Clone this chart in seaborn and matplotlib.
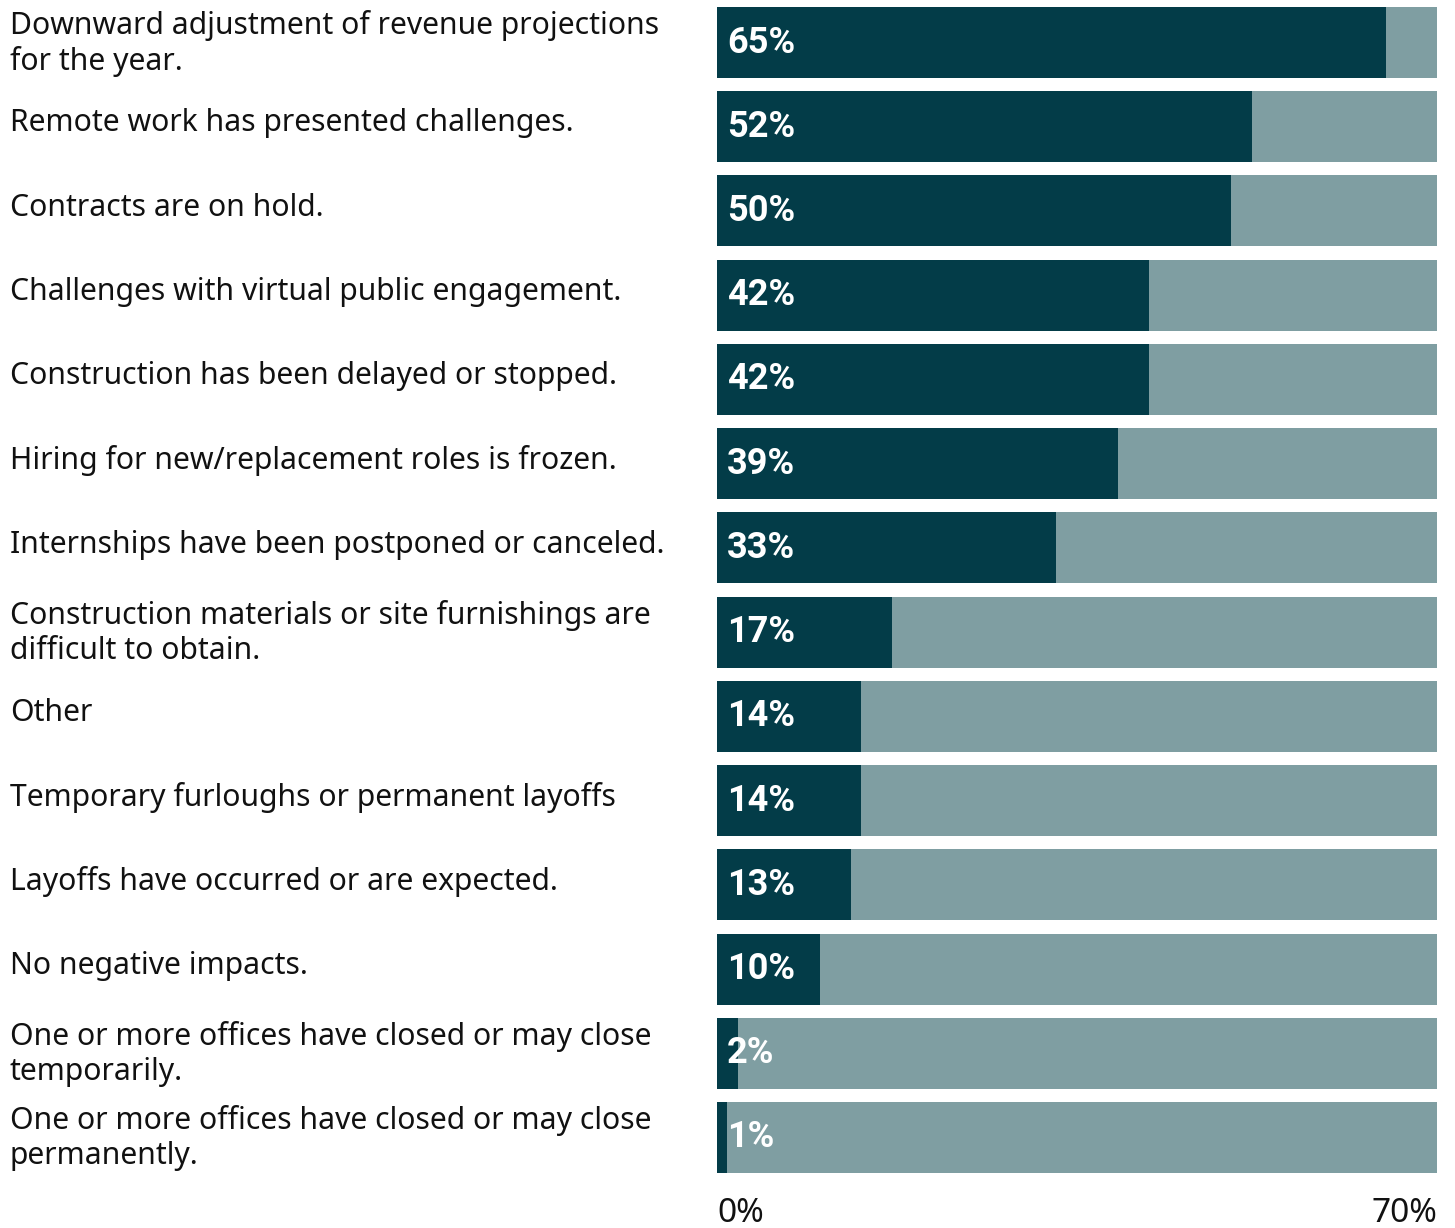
import matplotlib
matplotlib.use("Agg")
import matplotlib.pyplot as plt
import matplotlib.transforms as mtransforms
import seaborn as sns
import pandas as pd

categories = [
    "Downward adjustment of revenue projections\nfor the year.",
    "Remote work has presented challenges.",
    "Contracts are on hold.",
    "Challenges with virtual public engagement.",
    "Construction has been delayed or stopped.",
    "Hiring for new/replacement roles is frozen.",
    "Internships have been postponed or canceled.",
    "Construction materials or site furnishings are\ndifficult to obtain.",
    "Other",
    "Temporary furloughs or permanent layoffs",
    "Layoffs have occurred or are expected.",
    "No negative impacts.",
    "One or more offices have closed or may close\ntemporarily.",
    "One or more offices have closed or may close\npermanently.",
]
values = [65, 52, 50, 42, 42, 39, 33, 17, 14, 14, 13, 10, 2, 1]
axis_max = 70
tick_values = [0, 70]
tick_labels = ["0%", "70%"]

sns.set_theme(style="white")
plt.rcParams['font.family'] = ['Noto Sans', 'DejaVu Sans']

df = pd.DataFrame({"category": categories, "value": values,
                   "full": [axis_max] * len(values)})

W, H = 1455, 1228
fig = plt.figure(figsize=(W / 100, H / 100), dpi=100)
bh = 0.843
ax = fig.add_axes([717 / W, 1 - 1173 / H, (1437 - 717) / W, (1173 - 7) / H])

sns.barplot(data=df, y="category", x="full", color="#7f9ea2", width=bh,
            orient="h", ax=ax, saturation=1, linewidth=0)
sns.barplot(data=df, y="category", x="value", color="#033c48", width=bh,
            orient="h", ax=ax, saturation=1, linewidth=0)

n = len(categories)
ax.set_ylim(n - 1 + bh / 2, -bh / 2)
ax.set_xlim(0, axis_max)
for s in ax.spines.values():
    s.set_visible(False)
ax.set_ylabel("")
ax.set_xlabel("")
ax.set_yticks([])

offset = mtransforms.ScaledTranslation(10 / 100, 0, fig.dpi_scale_trans)
for i, v in enumerate(values):
    ax.text(0, i + 0.0, f"{v}%", transform=ax.transData + offset, ha="left",
            va="center", color="white", fontsize=26, fontweight="bold",
            family=["Roboto", "DejaVu Sans"])

trans = mtransforms.blended_transform_factory(fig.transFigure, ax.transData)
for i, c in enumerate(categories):
    dy = 0.01 if "\n" in c else -0.04
    ax.text(10 / W, i + dy, c, transform=trans, ha="left", va="center",
            fontsize=21.7, color="#111111", linespacing=1.22)

ax.set_xticks(tick_values)
ax.set_xticklabels(tick_labels, fontsize=24, color="#111111",
                   fontweight="light")
ax.tick_params(axis="x", length=0, pad=17)
xl = ax.get_xticklabels()
xl[0].set_ha("left")
xl[-1].set_ha("right")

fig.savefig("out.png", dpi=100)
